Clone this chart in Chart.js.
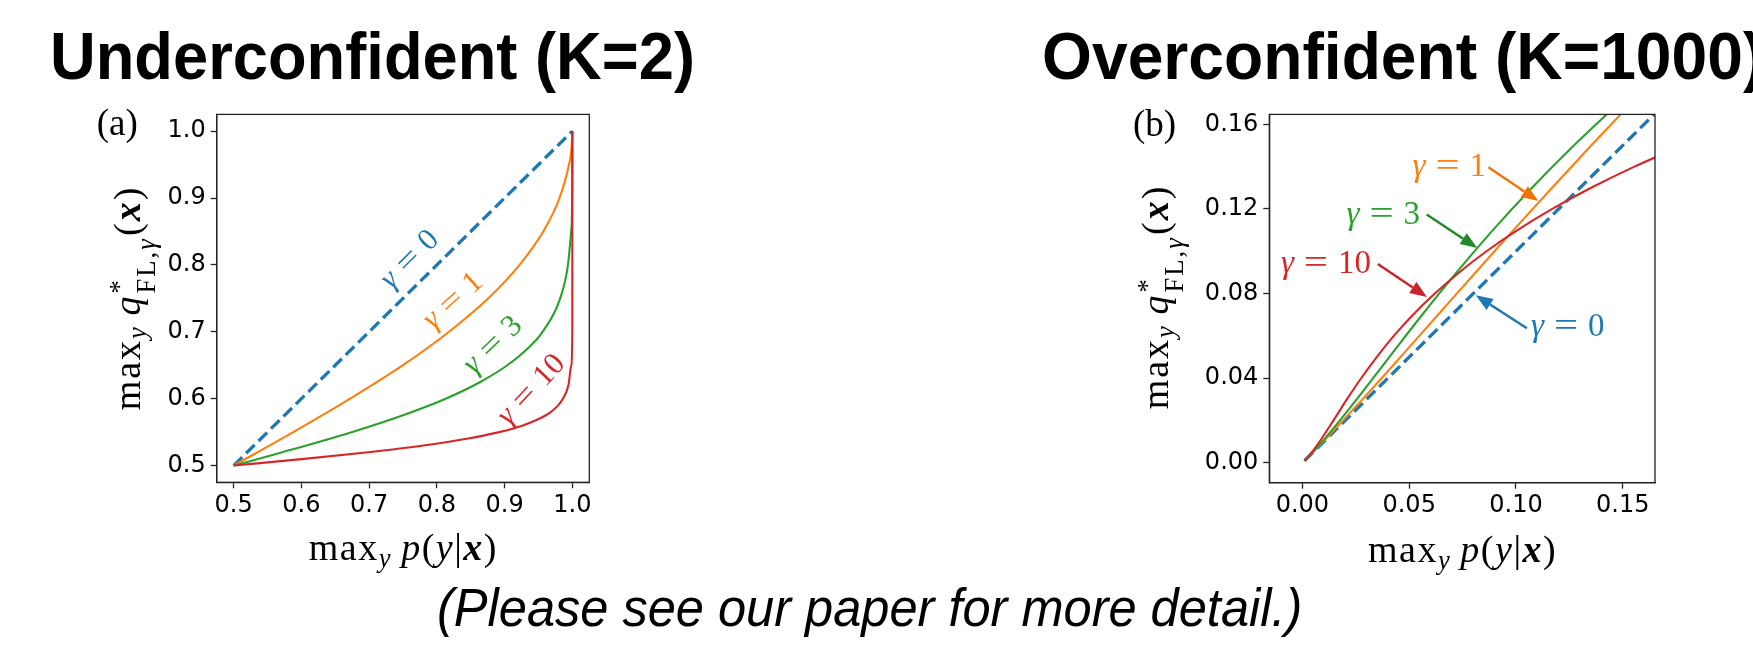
<!DOCTYPE html>
<html>
<head>
<meta charset="utf-8">
<script src="https://cdn.jsdelivr.net/npm/chart.js@4.4.1/dist/chart.umd.min.js"></script>
<style>
html, body { margin:0; padding:0; background:#ffffff; }
body { width:1753px; height:646px; position:relative; overflow:hidden; }
.cw { position:absolute; }
.big { position:absolute; font-family:"Liberation Sans", Arial, sans-serif; font-weight:bold; font-size:66.5px; white-space:nowrap; transform-origin:0 0; line-height:1; color:#000; }
.foot { position:absolute; font-family:"Liberation Sans", Arial, sans-serif; font-style:italic; font-size:53px; white-space:nowrap; transform-origin:0 0; line-height:1; color:#000; }
.letter { position:absolute; font-family:"Liberation Serif", serif; font-size:37px; white-space:nowrap; line-height:1; color:#000; }
.math { position:absolute; font-family:"Liberation Serif", serif; font-size:38px; white-space:nowrap; line-height:1; color:#000; letter-spacing:1.5px; }
.math.yl { font-size:38px; letter-spacing:2px; }
.math sub { font-size:0.7em; vertical-align:-0.25em; line-height:0; font-style:italic; }
.math i { font-style:italic; }
.math .bx { font-weight:bold; font-style:italic; }
.math .ss { display:inline-flex; flex-direction:column; font-size:0.7em; line-height:1.0; vertical-align:0.42em; margin-left:0.04em; margin-right:0.05em; }
.math .ss .rm { font-style:normal; }
.rot { transform-origin:50% 50%; }
</style>
</head>
<body>
<div class="cw" style="left:100px;top:95px;"><canvas id="ca" width="500" height="440"></canvas></div>
<div class="cw" style="left:1150px;top:95px;"><canvas id="cb" width="520" height="440"></canvas></div>
<div class="big" id="titleA"></div>
<div class="big" id="titleB"></div>
<div class="letter" id="letA"></div>
<div class="letter" id="letB"></div>
<div class="math" id="xlabA">max<sub>y</sub>&#8201;<i>p</i>(<i>y</i>|<span class="bx">x</span>)</div>
<div class="math" id="xlabB">max<sub>y</sub>&#8201;<i>p</i>(<i>y</i>|<span class="bx">x</span>)</div>
<div class="math yl rot" id="ylabA">max<sub>y</sub>&#8201;<i>q</i><span class="ss"><span class="rm">*</span><span><span class="rm">FL,</span><i>γ</i></span></span>(<span class="bx">x</span>)</div>
<div class="math yl rot" id="ylabB">max<sub>y</sub>&#8201;<i>q</i><span class="ss"><span class="rm">*</span><span><span class="rm">FL,</span><i>γ</i></span></span>(<span class="bx">x</span>)</div>
<div class="foot" id="foot"></div>
<script>
// ---------------- data ----------------
const panelTitles = ['Underconfident (K=2)', 'Overconfident (K=1000)'];
const panelLetters = ['(a)', '(b)'];
const footnote = '(Please see our paper for more detail.)';
const gammaValues = ['0', '1', '3', '10'];

// Panel (a), K=2 : x = max_y p(y|x), y = max_y q*_FL,gamma(x)
const underG0X = [0.5, 1.0];
const underG0Y = [0.5, 1.0];
const underG1X = [0.5, 0.588, 0.672, 0.750, 0.818, 0.876, 0.922, 0.957, 0.981, 0.995, 0.9988, 1.0];
const underG1Y = [0.5, 0.55, 0.60, 0.65, 0.70, 0.75, 0.80, 0.85, 0.90, 0.95, 0.975, 1.0];
const underG3X = [0.5, 0.572, 0.674, 0.749, 0.813, 0.864, 0.904, 0.934, 0.956, 0.982, 0.9935, 0.9982, 0.9997, 1.0];
const underG3Y = [0.5, 0.52, 0.55, 0.575, 0.60, 0.625, 0.65, 0.675, 0.70, 0.75, 0.80, 0.85, 0.90, 1.0];
const underG10X = [0.5, 0.604, 0.699, 0.780, 0.844, 0.892, 0.927, 0.951, 0.968, 0.979, 0.986, 0.9942, 0.9985, 0.9999, 1.0];
const underG10Y = [0.5, 0.51, 0.52, 0.53, 0.54, 0.55, 0.56, 0.57, 0.58, 0.59, 0.60, 0.62, 0.65, 0.70, 1.0];

// Panel (b), K=1000
const overG0X = [0.001, 0.17];
const overG0Y = [0.001, 0.17];
const overG1X = [0.001, 0.0020, 0.0097, 0.0281, 0.0459, 0.0635, 0.0811, 0.0988, 0.1169, 0.1352, 0.1540, 0.1732];
const overG1Y = [0.001, 0.002, 0.010, 0.030, 0.050, 0.070, 0.090, 0.110, 0.130, 0.150, 0.170, 0.190];
const overG3X = [0.001, 0.0020, 0.0092, 0.0175, 0.0254, 0.0407, 0.0561, 0.0722, 0.0892, 0.1075, 0.1271, 0.1483, 0.1712];
const overG3Y = [0.001, 0.002, 0.010, 0.020, 0.030, 0.050, 0.070, 0.090, 0.110, 0.130, 0.150, 0.170, 0.190];
const overG10X = [0.001, 0.0019, 0.0044, 0.0080, 0.0145, 0.0208, 0.0275, 0.0348, 0.0428, 0.0518, 0.0620, 0.0734, 0.0862, 0.1007, 0.1170, 0.1352, 0.1555, 0.1781];
const overG10Y = [0.001, 0.002, 0.005, 0.010, 0.020, 0.030, 0.040, 0.050, 0.060, 0.070, 0.080, 0.090, 0.100, 0.110, 0.120, 0.130, 0.140, 0.150];

// Tick values and labels
const xTicksA = [0.5, 0.6, 0.7, 0.8, 0.9, 1.0];
const xTickLabelsA = ['0.5', '0.6', '0.7', '0.8', '0.9', '1.0'];
const yTicksA = [0.5, 0.6, 0.7, 0.8, 0.9, 1.0];
const yTickLabelsA = ['0.5', '0.6', '0.7', '0.8', '0.9', '1.0'];
const xTicksB = [0.0, 0.05, 0.10, 0.15];
const xTickLabelsB = ['0.00', '0.05', '0.10', '0.15'];
const yTicksB = [0.0, 0.04, 0.08, 0.12, 0.16];
const yTickLabelsB = ['0.00', '0.04', '0.08', '0.12', '0.16'];

// ---------------- style ----------------
const BLUE = '#1f77b4', ORANGE = '#ff7f0e', GREEN = '#2ca02c', RED = '#d62728';
const ARROW = { blue: '#1f77b4', orange: '#ef7408', green: '#23892a', red: '#c8252b' };
const FRAME = '#222222';

function lineDs(xs, ys, color, dashed) {
  return {
    data: xs.map((x, i) => ({ x: x, y: ys[i] })),
    borderColor: color,
    borderWidth: dashed ? 3.3 : 2.1,
    borderDash: dashed ? [12, 5.5] : [],
    borderCapStyle: 'butt',
    pointRadius: 0,
    fill: false,
    cubicInterpolationMode: 'monotone'
  };
}

function drawGamma(ctx, cx, cy, value, size, color, angleDeg) {
  ctx.save();
  ctx.translate(cx, cy);
  ctx.rotate(-angleDeg * Math.PI / 180);
  ctx.fillStyle = color;
  ctx.textBaseline = 'alphabetic';
  ctx.textAlign = 'left';
  const fi = 'italic ' + size + 'px "Liberation Serif", serif';
  const fr = size + 'px "Liberation Serif", serif';
  ctx.font = fi; const wg = ctx.measureText('γ').width;
  ctx.font = fr; const we = ctx.measureText('=').width * 1.3; const wn = ctx.measureText(value).width;
  const gap = 0.3 * size;
  const total = wg + gap + we + gap + wn;
  let x = -total / 2; const by = 0.27 * size;
  ctx.font = fi; ctx.fillText('γ', x, by); x += wg + gap;
  ctx.font = fr;
  ctx.save(); ctx.translate(x, by); ctx.scale(1.3, 1); ctx.fillText('=', 0, 0); ctx.restore();
  x += we + gap;
  ctx.fillText(value, x, by);
  ctx.restore();
}

function drawArrow(ctx, x1, y1, x2, y2, color) {
  const hl = 17, hw = 13, lw = 2.5;
  const ang = Math.atan2(y2 - y1, x2 - x1);
  const bx = x2 - hl * Math.cos(ang), by = y2 - hl * Math.sin(ang);
  ctx.save();
  ctx.strokeStyle = color; ctx.fillStyle = color; ctx.lineWidth = lw;
  ctx.beginPath(); ctx.moveTo(x1, y1); ctx.lineTo(bx, by); ctx.stroke();
  ctx.beginPath();
  ctx.moveTo(x2, y2);
  ctx.lineTo(bx + hw / 2 * Math.sin(ang), by - hw / 2 * Math.cos(ang));
  ctx.lineTo(bx - hw / 2 * Math.sin(ang), by + hw / 2 * Math.cos(ang));
  ctx.closePath(); ctx.fill();
  ctx.restore();
}

function notesPlugin(notes) {
  return {
    id: 'notes',
    afterDatasetsDraw(chart) {
      const ctx = chart.ctx, sx = chart.scales.x, sy = chart.scales.y;
      const a = chart.chartArea;
      ctx.save(); ctx.strokeStyle = FRAME; ctx.lineWidth = 1.3;
      ctx.strokeRect(a.left, a.top, a.right - a.left, a.bottom - a.top); ctx.restore();
      notes.forEach(n => {
        if (n.arrow) {
          drawArrow(ctx, sx.getPixelForValue(n.arrow[0]), sy.getPixelForValue(n.arrow[1]),
                         sx.getPixelForValue(n.arrow[2]), sy.getPixelForValue(n.arrow[3]), n.arrowColor);
        }
        drawGamma(ctx, sx.getPixelForValue(n.x), sy.getPixelForValue(n.y), n.value, n.size, n.color, n.angle);
      });
    }
  };
}

function axisOpts(min, max, ticks, labels, fitKey, fitVal, pad) {
  return {
    type: 'linear', min: min, max: max,
    afterFit: s => { s[fitKey] = fitVal; },
    afterBuildTicks: s => { s.ticks = ticks.map(v => ({ value: v })); },
    ticks: {
      callback: (v, i) => labels[i],
      font: { family: 'DejaVu Sans', size: 24 }, color: '#000',
      padding: pad, maxRotation: 0, autoSkip: false
    },
    grid: { display: true, drawOnChartArea: false, drawTicks: true, tickLength: 6, tickWidth: 1.3, tickColor: FRAME },
    border: { display: true, color: FRAME, width: 1.3 }
  };
}

function makeChart(id, datasets, xr, yr, xt, xl, yt, yl, layout, notes) {
  return new Chart(document.getElementById(id), {
    type: 'line',
    data: { datasets: datasets },
    options: {
      responsive: false, animation: false, events: [],
      layout: { padding: layout.padding },
      plugins: { legend: { display: false }, tooltip: { enabled: false } },
      scales: {
        x: axisOpts(xr[0], xr[1], xt, xl, 'height', layout.xh, 3),
        y: axisOpts(yr[0], yr[1], yt, yl, 'width', layout.yw, 5)
      }
    },
    plugins: [notesPlugin(notes)]
  });
}

// Panel (a)
makeChart('ca',
  [lineDs(underG10X, underG10Y, RED, false), lineDs(underG3X, underG3Y, GREEN, false),
   lineDs(underG1X, underG1Y, ORANGE, false), lineDs(underG0X, underG0Y, BLUE, true)],
  [0.475, 1.025], [0.475, 1.025], xTicksA, xTickLabelsA, yTicksA, yTickLabelsA,
  { padding: { top: 14.3, right: 10.7, left: 0, bottom: 0 }, xh: 52.7, yw: 116.7 },
  [
    { value: gammaValues[0], x: 0.760, y: 0.808, angle: 45, size: 31, color: BLUE },
    { value: gammaValues[1], x: 0.824, y: 0.746, angle: 42, size: 31, color: ORANGE },
    { value: gammaValues[2], x: 0.883, y: 0.680, angle: 44, size: 31, color: GREEN },
    { value: gammaValues[3], x: 0.9395, y: 0.613, angle: 47, size: 31, color: RED }
  ]);

// Panel (b)
makeChart('cb',
  [lineDs(overG10X, overG10Y, RED, false), lineDs(overG3X, overG3Y, GREEN, false),
   lineDs(overG1X, overG1Y, ORANGE, false), lineDs(overG0X, overG0Y, BLUE, true)],
  [-0.0155, 0.1651], [-0.00936, 0.16468], xTicksB, xTickLabelsB, yTicksB, yTickLabelsB,
  { padding: { top: 15.7, right: 15, left: 0, bottom: 0 }, xh: 52.3, yw: 119.3 },
  [
    { value: gammaValues[1], x: 0.0688, y: 0.1397, angle: 0, size: 33, color: ORANGE, arrow: [0.0871, 0.1397, 0.1105, 0.1237], arrowColor: ARROW.orange },
    { value: gammaValues[2], x: 0.0379, y: 0.1170, angle: 0, size: 33, color: GREEN, arrow: [0.0582, 0.1174, 0.0819, 0.1015], arrowColor: ARROW.green },
    { value: gammaValues[3], x: 0.0110, y: 0.0940, angle: 0, size: 33, color: RED, arrow: [0.0353, 0.0940, 0.0583, 0.0784], arrowColor: ARROW.red },
    { value: gammaValues[0], x: 0.1243, y: 0.0644, angle: 0, size: 33, color: BLUE, arrow: [0.1051, 0.0636, 0.0812, 0.0792], arrowColor: ARROW.blue }
  ]);

// ---------------- HTML text placement ----------------
function placeText(el, x, baseline, align, sx) {
  const m = document.createElement('span');
  m.style.cssText = 'display:inline-block;width:0;height:0;vertical-align:baseline;';
  el.appendChild(m);
  el.style.left = '0px'; el.style.top = '0px'; el.style.transform = 'none';
  const r0 = el.getBoundingClientRect();
  const mb = m.getBoundingClientRect().top - r0.top;
  const w = el.offsetWidth;
  if (sx !== 1) el.style.transform = 'scaleX(' + sx + ')';
  const left = align === 'center' ? x - w * sx / 2 : x;
  el.style.left = left + 'px';
  el.style.top = (baseline - mb) + 'px';
  return w;
}
function placeRot(el, cx, cy) {
  el.style.left = cx + 'px'; el.style.top = cy + 'px';
  el.style.transform = 'translate(-50%,-50%) rotate(-90deg)';
}

const tA = document.getElementById('titleA'); tA.textContent = panelTitles[0];
const tB = document.getElementById('titleB'); tB.textContent = panelTitles[1];
const titleScaleA = 645 / tA.offsetWidth;
const titleScaleB = 722 / tB.offsetWidth;
placeText(tA, 50, 79.3, 'left', titleScaleA);
placeText(tB, 1041.7, 79.3, 'left', titleScaleB);

const ft = document.getElementById('foot'); ft.textContent = footnote;
const footScale = 865 / ft.offsetWidth;
placeText(ft, 437, 626, 'left', footScale);

const lA = document.getElementById('letA'); lA.textContent = panelLetters[0];
const lB = document.getElementById('letB'); lB.textContent = panelLetters[1];
placeText(lA, 96.7, 135, 'left', 1);
placeText(lB, 1133, 136, 'left', 1);

placeText(document.getElementById('xlabA'), 403.3, 560, 'center', 1);
placeText(document.getElementById('xlabB'), 1462.5, 561.5, 'center', 1);
placeRot(document.getElementById('ylabA'), 133.3, 298);
placeRot(document.getElementById('ylabB'), 1161, 297);
</script>
</body>
</html>
